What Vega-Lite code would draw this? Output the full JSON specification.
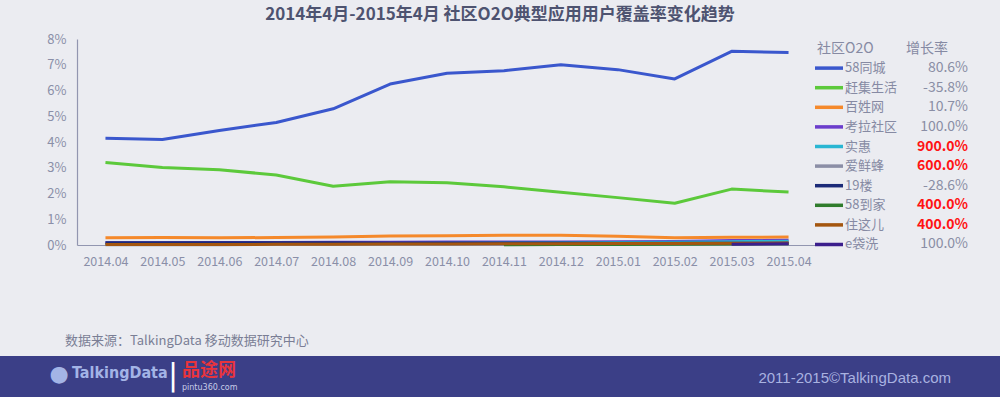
{
  "$schema": "https://vega.github.io/schema/vega-lite/v6.json",
  "padding": {"top": 6, "left": 0, "right": 0, "bottom": 0},
  "background": "#EBECF1",
  "title": {"text": "2014年4月-2015年4月 社区O2O典型应用用户覆盖率变化趋势", "fontSize": 17, "font": "Noto Sans CJK SC", "fontWeight": "bold", "color": "#4E5370", "anchor": "middle", "offset": 9},
  "config": {"view": {"stroke": null}, "font": "Noto Sans CJK SC"},
  "spacing": 67,
  "datasets": {
    "cov": [
      {"month": "2014.04", "series": "58同城", "value": 4.15}, {"month": "2014.05", "series": "58同城", "value": 4.10}, {"month": "2014.06", "series": "58同城", "value": 4.45}, {"month": "2014.07", "series": "58同城", "value": 4.76}, {"month": "2014.08", "series": "58同城", "value": 5.29}, {"month": "2014.09", "series": "58同城", "value": 6.25}, {"month": "2014.10", "series": "58同城", "value": 6.67}, {"month": "2014.11", "series": "58同城", "value": 6.77}, {"month": "2014.12", "series": "58同城", "value": 7.00}, {"month": "2015.01", "series": "58同城", "value": 6.81}, {"month": "2015.02", "series": "58同城", "value": 6.45}, {"month": "2015.03", "series": "58同城", "value": 7.52}, {"month": "2015.04", "series": "58同城", "value": 7.48},
      {"month": "2014.04", "series": "赶集生活", "value": 3.20}, {"month": "2014.05", "series": "赶集生活", "value": 3.01}, {"month": "2014.06", "series": "赶集生活", "value": 2.92}, {"month": "2014.07", "series": "赶集生活", "value": 2.72}, {"month": "2014.08", "series": "赶集生活", "value": 2.28}, {"month": "2014.09", "series": "赶集生活", "value": 2.46}, {"month": "2014.10", "series": "赶集生活", "value": 2.42}, {"month": "2014.11", "series": "赶集生活", "value": 2.26}, {"month": "2014.12", "series": "赶集生活", "value": 2.05}, {"month": "2015.01", "series": "赶集生活", "value": 1.84}, {"month": "2015.02", "series": "赶集生活", "value": 1.62}, {"month": "2015.03", "series": "赶集生活", "value": 2.17}, {"month": "2015.04", "series": "赶集生活", "value": 2.06},
      {"month": "2014.04", "series": "百姓网", "value": 0.28}, {"month": "2014.05", "series": "百姓网", "value": 0.29}, {"month": "2014.06", "series": "百姓网", "value": 0.28}, {"month": "2014.07", "series": "百姓网", "value": 0.29}, {"month": "2014.08", "series": "百姓网", "value": 0.31}, {"month": "2014.09", "series": "百姓网", "value": 0.35}, {"month": "2014.10", "series": "百姓网", "value": 0.36}, {"month": "2014.11", "series": "百姓网", "value": 0.38}, {"month": "2014.12", "series": "百姓网", "value": 0.38}, {"month": "2015.01", "series": "百姓网", "value": 0.34}, {"month": "2015.02", "series": "百姓网", "value": 0.28}, {"month": "2015.03", "series": "百姓网", "value": 0.30}, {"month": "2015.04", "series": "百姓网", "value": 0.31},
      {"month": "2014.04", "series": "考拉社区", "value": 0.09}, {"month": "2014.05", "series": "考拉社区", "value": 0.09}, {"month": "2014.06", "series": "考拉社区", "value": 0.10}, {"month": "2014.07", "series": "考拉社区", "value": 0.10}, {"month": "2014.08", "series": "考拉社区", "value": 0.11}, {"month": "2014.09", "series": "考拉社区", "value": 0.11}, {"month": "2014.10", "series": "考拉社区", "value": 0.12}, {"month": "2014.11", "series": "考拉社区", "value": 0.12}, {"month": "2014.12", "series": "考拉社区", "value": 0.12}, {"month": "2015.01", "series": "考拉社区", "value": 0.13}, {"month": "2015.02", "series": "考拉社区", "value": 0.14}, {"month": "2015.03", "series": "考拉社区", "value": 0.17}, {"month": "2015.04", "series": "考拉社区", "value": 0.18},
      {"month": "2014.04", "series": "实惠", "value": 0.015}, {"month": "2014.05", "series": "实惠", "value": 0.02}, {"month": "2014.06", "series": "实惠", "value": 0.03}, {"month": "2014.07", "series": "实惠", "value": 0.04}, {"month": "2014.08", "series": "实惠", "value": 0.05}, {"month": "2014.09", "series": "实惠", "value": 0.06}, {"month": "2014.10", "series": "实惠", "value": 0.07}, {"month": "2014.11", "series": "实惠", "value": 0.08}, {"month": "2014.12", "series": "实惠", "value": 0.09}, {"month": "2015.01", "series": "实惠", "value": 0.10}, {"month": "2015.02", "series": "实惠", "value": 0.11}, {"month": "2015.03", "series": "实惠", "value": 0.13}, {"month": "2015.04", "series": "实惠", "value": 0.15},
      {"month": "2014.04", "series": "爱鲜蜂", "value": 0.01}, {"month": "2014.05", "series": "爱鲜蜂", "value": 0.01}, {"month": "2014.06", "series": "爱鲜蜂", "value": 0.01}, {"month": "2014.07", "series": "爱鲜蜂", "value": 0.02}, {"month": "2014.08", "series": "爱鲜蜂", "value": 0.02}, {"month": "2014.09", "series": "爱鲜蜂", "value": 0.03}, {"month": "2014.10", "series": "爱鲜蜂", "value": 0.03}, {"month": "2014.11", "series": "爱鲜蜂", "value": 0.04}, {"month": "2014.12", "series": "爱鲜蜂", "value": 0.04}, {"month": "2015.01", "series": "爱鲜蜂", "value": 0.05}, {"month": "2015.02", "series": "爱鲜蜂", "value": 0.05}, {"month": "2015.03", "series": "爱鲜蜂", "value": 0.06}, {"month": "2015.04", "series": "爱鲜蜂", "value": 0.07},
      {"month": "2014.04", "series": "19楼", "value": 0.091}, {"month": "2014.05", "series": "19楼", "value": 0.09}, {"month": "2014.06", "series": "19楼", "value": 0.088}, {"month": "2014.07", "series": "19楼", "value": 0.085}, {"month": "2014.08", "series": "19楼", "value": 0.083}, {"month": "2014.09", "series": "19楼", "value": 0.08}, {"month": "2014.10", "series": "19楼", "value": 0.078}, {"month": "2014.11", "series": "19楼", "value": 0.075}, {"month": "2014.12", "series": "19楼", "value": 0.073}, {"month": "2015.01", "series": "19楼", "value": 0.07}, {"month": "2015.02", "series": "19楼", "value": 0.068}, {"month": "2015.03", "series": "19楼", "value": 0.066}, {"month": "2015.04", "series": "19楼", "value": 0.065},
      {"month": "2014.11", "series": "58到家", "value": 0.01}, {"month": "2014.12", "series": "58到家", "value": 0.015}, {"month": "2015.01", "series": "58到家", "value": 0.02}, {"month": "2015.02", "series": "58到家", "value": 0.03}, {"month": "2015.03", "series": "58到家", "value": 0.04}, {"month": "2015.04", "series": "58到家", "value": 0.05},
      {"month": "2014.04", "series": "住这儿", "value": 0.015}, {"month": "2014.05", "series": "住这儿", "value": 0.02}, {"month": "2014.06", "series": "住这儿", "value": 0.02}, {"month": "2014.07", "series": "住这儿", "value": 0.025}, {"month": "2014.08", "series": "住这儿", "value": 0.03}, {"month": "2014.09", "series": "住这儿", "value": 0.035}, {"month": "2014.10", "series": "住这儿", "value": 0.04}, {"month": "2014.11", "series": "住这儿", "value": 0.045}, {"month": "2014.12", "series": "住这儿", "value": 0.05}, {"month": "2015.01", "series": "住这儿", "value": 0.055}, {"month": "2015.02", "series": "住这儿", "value": 0.06}, {"month": "2015.03", "series": "住这儿", "value": 0.065}, {"month": "2015.04", "series": "住这儿", "value": 0.075},
      {"month": "2015.03", "series": "e袋洗", "value": 0.025}, {"month": "2015.04", "series": "e袋洗", "value": 0.05}
    ],
    "rates": [
      {"series": "58同城", "growth": "80.6%"},
      {"series": "赶集生活", "growth": "-35.8%"},
      {"series": "百姓网", "growth": "10.7%"},
      {"series": "考拉社区", "growth": "100.0%"},
      {"series": "实惠", "growth": "900.0%"},
      {"series": "爱鲜蜂", "growth": "600.0%"},
      {"series": "19楼", "growth": "-28.6%"},
      {"series": "58到家", "growth": "400.0%"},
      {"series": "住这儿", "growth": "400.0%"},
      {"series": "e袋洗", "growth": "100.0%"}
    ],
    "footer": [
      {"part": "icon", "label": "●"},
      {"part": "logo", "label": "TalkingData"},
      {"part": "sep", "label": "|"},
      {"part": "brand", "label": "品途网"},
      {"part": "url", "label": "pintu360.com"},
      {"part": "copy", "label": "2011-2015©TalkingData.com"}
    ]
  },
  "vconcat": [
    {
      "bounds": "flush",
      "spacing": 12,
      "hconcat": [
        {
          "width": 65,
          "height": 206,
          "data": {"values": []},
          "mark": {"type": "point"},
          "encoding": {}
        },
        {
          "width": 740,
          "height": 206,
          "data": {"name": "cov"},
          "mark": {"type": "line", "strokeWidth": 3, "strokeJoin": "round"},
          "encoding": {
            "x": {"field": "month", "type": "ordinal", "sort": null, "scale": {"type": "point", "padding": 0.5},
              "axis": {"title": null, "labelAngle": 0, "ticks": false, "grid": false, "labelPadding": 10, "labelFontSize": 12.5, "labelColor": "#8A8FA8", "domainColor": "#9296B0", "domainWidth": 1.2}},
            "y": {"field": "value", "type": "quantitative", "scale": {"domain": [0, 8], "nice": false},
              "axis": {"title": null, "values": [0, 1, 2, 3, 4, 5, 6, 7, 8], "labelExpr": "datum.value + '%'", "ticks": false, "grid": false, "labelPadding": 11, "labelFontSize": 13, "labelColor": "#8A8FA8", "domainColor": "#9296B0", "domainWidth": 1.2}},
            "color": {"field": "series", "type": "nominal", "legend": null,
              "scale": {"domain": ["58同城", "赶集生活", "百姓网", "考拉社区", "实惠", "爱鲜蜂", "19楼", "58到家", "住这儿", "e袋洗"],
                "range": ["#3A57CD", "#5CC93B", "#F5892B", "#6B3DCC", "#29B6D3", "#8B8EA6", "#1B2A78", "#2F7C2C", "#A4560F", "#3B1E8C"]}}
          }
        },
        {
          "width": 139,
          "height": 215,
          "layer": [
            {
              "data": {"name": "rates"},
              "mark": {"type": "point", "shape": "stroke", "size": 784, "strokeWidth": 3.5, "filled": false, "opacity": 1},
              "encoding": {
                "x": {"datum": "swatch", "type": "nominal", "scale": {"type": "point", "domain": ["swatch", "rate"], "padding": 0}, "axis": null},
                "y": {"field": "series", "type": "nominal", "scale": {"type": "point", "domain": ["社区O2O", "58同城", "赶集生活", "百姓网", "考拉社区", "实惠", "爱鲜蜂", "19楼", "58到家", "住这儿", "e袋洗"], "padding": 0.485}, "axis": null},
                "color": {"field": "series", "type": "nominal", "legend": null}
              }
            },
            {
              "data": {"name": "rates"},
              "mark": {"type": "text", "align": "left", "baseline": "middle", "dx": 16, "fontSize": 13, "color": "#868AA3"},
              "encoding": {
                "x": {"datum": "swatch", "type": "nominal"},
                "y": {"field": "series", "type": "nominal"},
                "text": {"field": "series"}
              }
            },
            {
              "data": {"name": "rates"},
              "transform": [{"filter": "parseFloat(datum.growth) < 400"}],
              "mark": {"type": "text", "align": "right", "baseline": "middle", "fontSize": 14, "color": "#8A8EA5"},
              "encoding": {
                "x": {"datum": "rate", "type": "nominal"},
                "y": {"field": "series", "type": "nominal"},
                "text": {"field": "growth"}
              }
            },
            {
              "data": {"name": "rates"},
              "transform": [{"filter": "parseFloat(datum.growth) >= 400"}],
              "mark": {"type": "text", "align": "right", "baseline": "middle", "fontSize": 14, "fontWeight": "bold", "color": "#FF1414"},
              "encoding": {
                "x": {"datum": "rate", "type": "nominal"},
                "y": {"field": "series", "type": "nominal"},
                "text": {"field": "growth"}
              }
            },
            {
              "data": {"values": [{"series": "社区O2O", "head": "增长率"}]},
              "mark": {"type": "text", "align": "left", "baseline": "middle", "dx": -12, "fontSize": 14, "color": "#868AA3"},
              "encoding": {
                "x": {"datum": "swatch", "type": "nominal"},
                "y": {"field": "series", "type": "nominal"},
                "text": {"field": "series"}
              }
            },
            {
              "data": {"values": [{"series": "社区O2O", "head": "增长率"}]},
              "mark": {"type": "text", "align": "right", "baseline": "middle", "dx": -20, "fontSize": 14, "color": "#868AA3"},
              "encoding": {
                "x": {"datum": "rate", "type": "nominal"},
                "y": {"field": "series", "type": "nominal"},
                "text": {"field": "head"}
              }
            }
          ]
        }
      ]
    },
    {
      "width": 1000,
      "height": 42,
      "view": {"fill": "#3B3F87", "stroke": null},
      "title": {"text": "数据来源：TalkingData 移动数据研究中心", "anchor": "start", "orient": "top", "dx": 65, "fontSize": 13, "fontWeight": "normal", "color": "#7A7E95", "offset": 8},
      "data": {"name": "footer"},
      "layer": [
        {"transform": [{"filter": "datum.part == 'icon'"}], "mark": {"type": "text", "align": "center", "baseline": "middle", "dx": -441, "dy": -3, "fontSize": 22, "font": "DejaVu Sans", "color": "#A3B4E6"}, "encoding": {"text": {"field": "label"}}},
        {"transform": [{"filter": "datum.part == 'logo'"}], "mark": {"type": "text", "align": "left", "baseline": "middle", "dx": -428, "dy": -4, "fontSize": 16, "fontWeight": "bold", "font": "DejaVu Sans Condensed, DejaVu Sans", "color": "#A3B4E6"}, "encoding": {"text": {"field": "label"}}},
        {"transform": [{"filter": "datum.part == 'sep'"}], "mark": {"type": "text", "align": "center", "baseline": "middle", "dx": -327, "dy": -1, "fontSize": 30, "font": "DejaVu Sans", "color": "#FFFFFF"}, "encoding": {"text": {"field": "label"}}},
        {"transform": [{"filter": "datum.part == 'brand'"}], "mark": {"type": "text", "align": "left", "baseline": "middle", "dx": -318, "dy": -6, "fontSize": 18, "fontWeight": "bold", "color": "#E8343C"}, "encoding": {"text": {"field": "label"}}},
        {"transform": [{"filter": "datum.part == 'url'"}], "mark": {"type": "text", "align": "left", "baseline": "middle", "dx": -318, "dy": 11, "fontSize": 8, "font": "DejaVu Sans", "color": "#C8CCE8"}, "encoding": {"text": {"field": "label"}}},
        {"transform": [{"filter": "datum.part == 'copy'"}], "mark": {"type": "text", "align": "right", "baseline": "middle", "dx": 451, "dy": 1, "fontSize": 15, "font": "Liberation Sans", "color": "#A9B2E0"}, "encoding": {"text": {"field": "label"}}}
      ]
    }
  ]
}
